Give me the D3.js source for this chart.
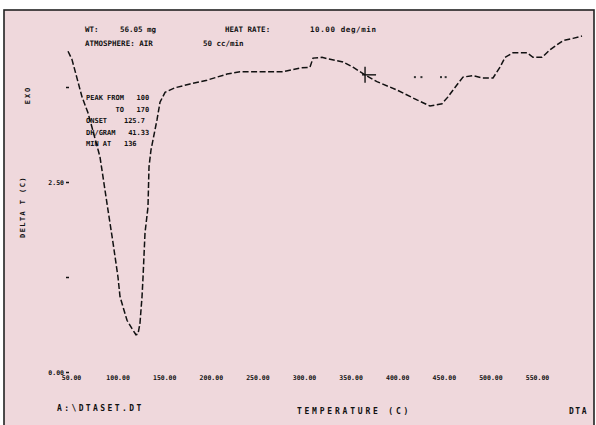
<!DOCTYPE html>
<html><head><meta charset="utf-8">
<script src="https://cdn.jsdelivr.net/npm/d3@7"></script>
<style>
html,body{margin:0;padding:0;background:#fff;}
svg{display:block;}
text{font-family:"DejaVu Sans Mono",monospace;font-weight:bold;fill:#111;}
</style></head>
<body>
<script>
// ---- data ----
const temperature = [46.8,51.1,61.8,68.2,72.5,81.1,84.3,89.7,95.1,100.4,102.6,110.1,115.5,119.7,121.9,124.0,126.2,127.3,129.4,132.6,133.7,135.8,142.3,145.5,150.9,161.6,177.7,195.9,217.4,231.3,277.5,295.7,306.4,309.7,319.3,325.8,341.8,352.6,365.5,378.3,399.8,421.2,435.2,448.1,454.5,464.2,470.6,481.3,491.0,502.8,510.3,515.7,524.2,539.3,545.7,555.4,564.0,577.9,588.6,598.3];
const deltaT = [4.22,4.11,3.62,3.41,3.22,2.83,2.57,2.13,1.70,1.25,0.99,0.68,0.57,0.49,0.50,0.64,0.99,1.25,1.83,2.17,2.70,2.92,3.32,3.55,3.68,3.74,3.79,3.84,3.92,3.95,3.95,4.00,4.01,4.13,4.14,4.12,4.08,4.01,3.91,3.82,3.71,3.58,3.50,3.53,3.62,3.78,3.88,3.90,3.87,3.87,4.01,4.14,4.20,4.20,4.14,4.14,4.24,4.36,4.39,4.42];
const markerT = [365.5];
const markerV = [3.91];
const dotT = [419, 426, 447, 452];
const dotV = [3.88, 3.88, 3.88, 3.88];
const xTicks = [50,100,150,200,250,300,350,400,450,500,550];
const xTickLabels = ["50.00","100.00","150.00","200.00","250.00","300.00","350.00","400.00","450.00","500.00","550.00"];
const yTicks = [0, 1.25, 2.5, 3.75];
const yTickLabels = ["0.00","","2.50",""];
const headerLines = [
  ["WT:", "56.05 mg", "HEAT RATE:", "10.00 deg/min"],
  ["ATMOSPHERE: AIR", "50 cc/min"]
];
const peakLines = ["PEAK FROM   100", "       TO   170", "ONSET    125.7", "DH/GRAM   41.33", "MIN AT   136"];
const xTitle = "TEMPERATURE (C)";
const yTitle = "DELTA T (C)";
const yTop = "EXO";
const fileLabel = "A:\\DTASET.DT";
const modeLabel = "DTA";

// ---- drawing ----
const W = 596, H = 425;
const svg = d3.select("body").append("svg").attr("width", W).attr("height", H);
svg.append("rect").attr("x",0).attr("y",0).attr("width",W).attr("height",H).attr("fill","#fff");
svg.append("rect").attr("x",4).attr("y",10).attr("width",W-6).attr("height",H-9)
  .attr("fill","#efd8dc").attr("stroke","#222").attr("stroke-width",1.6);

const x = d3.scaleLinear().domain([50,550]).range([71,537]);
const y = d3.scaleLinear().domain([0,1.25]).range([372,277]);

// x tick labels via axis
const gx = svg.append("g").attr("transform","translate(0,371)")
  .call(d3.axisBottom(x).tickValues(xTicks).tickSize(0).tickPadding(4)
    .tickFormat((d,i)=>xTickLabels[i]));
gx.select(".domain").remove();
gx.selectAll("text").attr("font-family","DejaVu Sans Mono").attr("font-weight","bold")
  .attr("font-size","6.5px").attr("fill","#111");

// y ticks
const gy = svg.append("g").attr("transform","translate(66,0)")
  .call(d3.axisLeft(y).tickValues(yTicks).tickSize(-3).tickPadding(2)
    .tickFormat((d,i)=>yTickLabels[i]));
gy.select(".domain").remove();
gy.selectAll("line").attr("stroke","#111").attr("stroke-width",1.5);
gy.selectAll("text").attr("font-family","DejaVu Sans Mono").attr("font-weight","bold")
  .attr("font-size","6.5px").attr("fill","#111");

// curve
const pts = temperature.map((t,i)=>[t, deltaT[i]]);
svg.append("path").datum(pts)
  .attr("d", d3.line().x(d=>x(d[0])).y(d=>y(d[1])).curve(d3.curveLinear))
  .attr("fill","none").attr("stroke","#111").attr("stroke-width",1.5)
  .attr("stroke-dasharray","6,2.5");

// marker cross
markerT.forEach((t,i)=>{
  const cx = x(t), cy = y(markerV[i]);
  svg.append("line").attr("x1",cx).attr("x2",cx).attr("y1",cy-8).attr("y2",cy+8).attr("stroke","#111").attr("stroke-width",1.4);
  svg.append("line").attr("x1",cx-3).attr("x2",cx+11).attr("y1",cy).attr("y2",cy).attr("stroke","#111").attr("stroke-width",1.4);
});
// dots
dotT.forEach((t,i)=>{
  svg.append("rect").attr("x",x(t)-1).attr("y",y(dotV[i])-1).attr("width",2).attr("height",2).attr("fill","#333");
});

// header text
const fs = "7.5px";
const hx = [[85,120,225,310],[85,203]];
headerLines.forEach((line,li)=>{
  line.forEach((s,j)=>{
    svg.append("text").attr("x",hx[li][j]).attr("y",li===0?32:46).attr("font-size",fs)
      .attr("letter-spacing", j===3 ? "0.6px" : "0px").text(s);
  });
});
peakLines.forEach((s,i)=>{
  svg.append("text").attr("x",86).attr("y",100+i*11.5).attr("font-size","7px")
    .attr("xml:space","preserve").style("white-space","pre").text(s);
});

// titles
svg.append("text").attr("x",354).attr("y",414).attr("text-anchor","middle").attr("font-size","8px")
  .attr("letter-spacing","2.8px").text(xTitle);
svg.append("text").attr("x",57).attr("y",411).attr("font-size","8px").attr("letter-spacing","2.4px").text(fileLabel);
svg.append("text").attr("x",588).attr("y",414).attr("text-anchor","end").attr("font-size","8px").attr("letter-spacing","1.5px").text(modeLabel);
svg.append("text").attr("transform","translate(25,207) rotate(-90)").attr("text-anchor","middle")
  .attr("font-size","7px").attr("letter-spacing","1.4px").text(yTitle);
svg.append("text").attr("transform","translate(30,95) rotate(-90)").attr("text-anchor","middle")
  .attr("font-size","7px").attr("letter-spacing","2px").text(yTop);
</script>
</body></html>
